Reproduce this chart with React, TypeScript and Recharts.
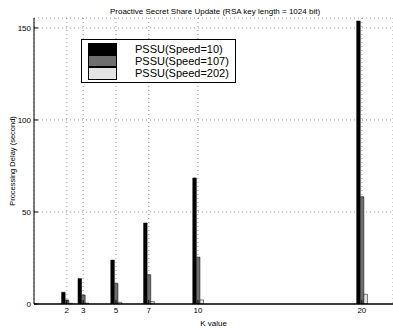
import React from 'react';
import { BarChart, Bar, XAxis, YAxis, CartesianGrid, Legend } from 'recharts';

const kValues = [2, 3, 5, 7, 10, 20];
const speed10 = [6.4, 13.8, 23.9, 44.0, 68.5, 153.8];
const speed107 = [2.2, 4.9, 11.2, 15.9, 25.5, 58.3];
const speed202 = [0.4, 0.5, 0.9, 1.3, 2.2, 5.3];
const yTicks = [0, 50, 100, 150];

const seriesDefs = [
  { key: 's10', name: 'PSSU(Speed=10)', color: '#000000' },
  { key: 's107', name: 'PSSU(Speed=107)', color: '#6e6e6e' },
  { key: 's202', name: 'PSSU(Speed=202)', color: '#e4e4e4' },
];

const data = kValues.map((k, i) => ({ k, s10: speed10[i], s107: speed107[i], s202: speed202[i] }));

const FONT = '"Liberation Sans", Arial, sans-serif';

const LegendBox = () => (
  <div
    style={{
      width: 155,
      height: 44,
      border: '1px solid #000',
      background: '#fff',
      boxSizing: 'border-box',
      padding: '3px 0 0 6px',
      fontFamily: FONT,
    }}
  >
    {seriesDefs.map((s) => (
      <div key={s.key} style={{ display: 'flex', alignItems: 'center', height: 12.2 }}>
        <div
          style={{
            width: 29,
            height: 12.2,
            background: s.color,
            border: '0.5px solid #000',
            boxSizing: 'border-box',
          }}
        />
        <span style={{ marginLeft: 18, fontSize: 11, lineHeight: '12px', color: '#000' }}>{s.name}</span>
      </div>
    ))}
  </div>
);

export default function App() {
  return (
    <div style={{ position: 'absolute', left: 0, top: 0, width: 393, height: 328, background: '#fff' }}>
      <div
        style={{
          position: 'absolute',
          left: 0,
          width: 430,
          top: 7,
          textAlign: 'center',
          fontFamily: FONT,
          fontSize: 8,
          lineHeight: '10px',
          color: '#000',
        }}
      >
        Proactive Secret Share Update (RSA key length = 1024 bit)
      </div>
      <BarChart
        width={393}
        height={328}
        data={data}
        margin={{ top: 18, right: 0, bottom: 0, left: 0 }}
        barGap={0}
        barSize={3.6}
      >
        <CartesianGrid stroke="#7a7a7a" strokeDasharray="1 3" strokeWidth={0.8} />
        <XAxis
          dataKey="k"
          type="number"
          domain={[0, 21.9]}
          ticks={kValues}
          allowDataOverflow
          height={24}
          axisLine={{ stroke: '#000', strokeWidth: 1.5 }}
          tickLine={{ stroke: '#000' }}
          tickSize={-4}
          tickMargin={7}
          tick={{ fontSize: 8, fill: '#000', fontFamily: FONT }}
          label={{ value: 'K value', position: 'insideBottom', offset: 2, fontSize: 8, fill: '#000', fontFamily: FONT }}
        />
        <XAxis
          xAxisId="top"
          orientation="top"
          dataKey="k"
          type="number"
          domain={[0, 21.9]}
          ticks={kValues}
          allowDataOverflow
          height={0}
          axisLine={{ stroke: '#000' }}
          tickLine={{ stroke: '#000' }}
          tickSize={-4}
          tick={false}
        />
        <YAxis
          type="number"
          domain={[0, 155.4]}
          ticks={yTicks}
          allowDataOverflow
          width={34}
          axisLine={{ stroke: '#000' }}
          tickLine={{ stroke: '#000' }}
          tickSize={-4}
          tickMargin={7}
          tick={{ fontSize: 8, fill: '#000', fontFamily: FONT }}
          label={{
            value: 'Processing Delay (second)',
            angle: -90,
            position: 'insideLeft',
            offset: 12,
            fontSize: 7.5,
            fill: '#000',
            fontFamily: FONT,
            style: { textAnchor: 'middle' },
          }}
        />
        <Legend
          layout="vertical"
          align="center"
          verticalAlign="middle"
          wrapperStyle={{ left: 81, top: 39, width: 155, height: 44 }}
          content={() => <LegendBox />}
        />
        {seriesDefs.map((s) => (
          <Bar
            key={s.key}
            dataKey={s.key}
            name={s.name}
            fill={s.color}
            stroke="#000"
            strokeWidth={0.5}
            isAnimationActive={false}
          />
        ))}
      </BarChart>
    </div>
  );
}
